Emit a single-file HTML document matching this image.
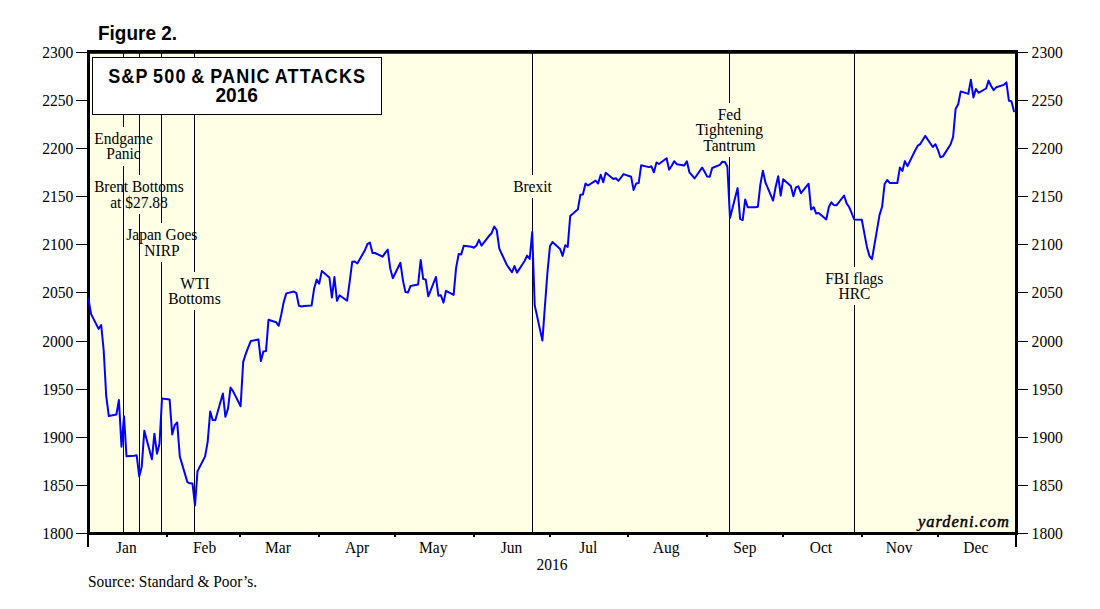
<!DOCTYPE html>
<html><head><meta charset="utf-8"><style>
html,body{margin:0;padding:0;background:#fff;width:1100px;height:609px;overflow:hidden}
svg{display:block}
.s{font-family:"Liberation Serif", serif;font-size:15.5px;fill:#000}
.t{font-family:"Liberation Sans", sans-serif;font-weight:bold;font-size:20px;fill:#000}
.y{font-family:"Liberation Serif", serif;font-style:italic;font-size:16.5px;fill:#000;stroke:#000;stroke-width:0.45}
</style></head><body>
<svg width="1100" height="609" viewBox="0 0 1100 609">
<rect x="87" y="50" width="931" height="485" fill="#FFFFE6"/>
<rect x="123" y="53" width="1" height="74" fill="#000"/>
<rect x="123" y="166" width="1" height="366" fill="#000"/>
<rect x="139" y="53" width="1" height="122" fill="#000"/>
<rect x="139" y="214" width="1" height="318" fill="#000"/>
<rect x="161" y="53" width="1" height="170" fill="#000"/>
<rect x="161" y="262" width="1" height="270" fill="#000"/>
<rect x="194" y="53" width="1" height="219" fill="#000"/>
<rect x="194" y="310" width="1" height="222" fill="#000"/>
<rect x="532" y="53" width="1" height="122" fill="#000"/>
<rect x="532" y="198" width="1" height="334" fill="#000"/>
<rect x="729" y="53" width="1" height="50" fill="#000"/>
<rect x="729" y="157" width="1" height="375" fill="#000"/>
<rect x="854" y="53" width="1" height="214" fill="#000"/>
<rect x="854" y="305" width="1" height="227" fill="#000"/>
<rect x="92.5" y="57.5" width="289" height="57" fill="#fff" stroke="#000" stroke-width="1"/>
<rect x="87" y="50" width="931" height="3.75" fill="#000"/>
<rect x="87" y="50" width="3" height="485" fill="#000"/>
<rect x="1015" y="50" width="3" height="485" fill="#000"/>
<rect x="87" y="532" width="931" height="3" fill="#000"/>
<rect x="87" y="535" width="2" height="12" fill="#000"/>
<rect x="1015" y="535" width="2" height="12" fill="#000"/>
<polyline points="88.5,298.8 91.0,313.9 98.6,328.9 101.2,325.0 103.7,350.5 106.2,395.8 108.8,416.1 116.4,414.5 118.9,400.1 121.5,446.7 124.0,416.3 126.5,456.2 134.1,455.7 136.7,455.3 139.2,476.4 141.7,467.1 144.3,430.7 151.9,459.3 154.4,433.8 157.0,453.7 159.5,443.7 162.0,398.6 169.6,399.4 172.2,434.4 174.7,425.2 177.2,422.4 179.8,456.5 187.4,482.1 189.9,483.3 192.5,483.6 195.0,505.5 197.5,471.2 205.1,456.4 207.7,441.6 210.2,411.5 212.7,420.1 215.3,420.2 222.9,393.5 225.4,416.8 228.0,408.6 230.5,387.6 233.0,391.1 240.6,406.3 243.2,361.9 245.7,354.1 248.2,347.4 250.8,341.1 258.4,339.4 260.9,361.1 263.4,351.4 266.0,351.1 268.5,319.8 276.1,322.2 278.7,325.8 281.2,314.9 283.7,302.1 286.3,293.4 293.9,291.5 296.4,293.2 298.9,305.8 301.5,306.5 304.0,306.0 311.6,305.5 314.2,288.2 316.7,279.6 319.2,283.6 321.8,271.1 329.4,277.5 331.9,297.6 334.4,277.0 337.0,300.8 339.5,295.3 347.1,300.7 349.7,281.7 352.2,261.8 354.7,261.5 357.3,263.4 364.9,250.3 367.4,244.1 369.9,242.6 372.5,253.1 375.0,253.0 382.6,256.6 385.2,252.9 387.7,249.6 390.2,268.2 392.8,278.3 400.4,262.8 402.9,280.1 405.4,291.9 408.0,292.4 410.5,286.1 418.1,284.6 420.7,259.9 423.2,279.1 425.7,279.4 428.3,296.3 435.9,277.0 438.4,295.7 440.9,295.3 443.5,302.6 446.0,290.8 453.6,294.9 456.1,267.9 458.7,254.0 461.2,254.4 463.8,245.8 471.4,246.8 473.9,247.8 476.4,245.5 479.0,239.8 481.5,245.7 489.1,235.8 491.6,233.2 494.2,226.5 496.7,230.0 499.3,248.7 506.9,265.0 509.4,268.6 511.9,272.3 514.5,266.1 517.0,272.6 524.6,261.0 527.1,255.6 529.7,258.9 532.2,232.1 534.7,305.1 542.4,340.6 544.9,306.4 547.4,273.0 550.0,246.0 552.5,242.1 560.1,249.0 562.6,255.9 565.2,245.2 567.7,246.9 570.2,216.1 577.9,209.2 580.4,194.7 582.9,194.5 585.5,183.6 588.0,185.5 595.6,180.6 598.1,183.5 600.7,174.7 603.2,182.2 605.7,172.7 613.3,179.0 615.9,178.3 618.4,180.9 621.0,177.5 623.5,174.1 631.1,176.8 633.6,190.0 636.2,183.5 638.7,183.1 641.2,165.2 648.8,167.1 651.4,166.3 653.9,172.3 656.5,162.4 659.0,164.0 666.6,158.2 669.1,169.7 671.7,165.8 674.2,161.2 676.7,164.2 684.3,165.4 686.9,161.3 689.4,172.3 691.9,175.2 694.5,178.5 702.1,167.6 704.6,171.7 707.2,176.6 709.7,176.7 712.2,168.0 719.8,164.8 722.4,161.7 724.9,162.0 727.4,166.7 730.0,218.1 737.6,188.1 740.1,218.9 742.7,220.1 745.2,199.4 747.7,207.2 755.3,207.3 757.9,206.7 760.4,184.2 762.9,170.7 765.5,182.7 773.1,200.6 775.6,187.2 778.2,176.2 780.7,195.7 783.2,179.2 790.8,186.0 793.4,196.3 795.9,187.4 798.4,186.4 801.0,193.2 808.6,183.7 811.1,209.6 813.7,207.2 816.2,213.6 818.7,213.1 826.3,219.4 828.9,206.8 831.4,202.3 833.9,205.1 836.5,205.3 844.1,195.5 846.6,203.4 849.1,207.0 851.7,213.1 854.2,219.5 861.8,219.7 864.4,233.6 866.9,246.9 869.4,255.8 872.0,259.2 879.6,214.6 882.1,206.8 884.6,184.0 887.2,180.0 889.7,182.9 897.3,183.1 899.9,167.6 902.4,170.9 904.9,161.1 907.5,166.1 915.1,150.5 917.6,145.9 920.1,144.2 922.7,140.0 925.2,135.9 932.8,147.0 935.4,144.2 937.9,149.8 940.4,157.3 943.0,156.4 950.6,144.2 953.1,136.9 955.6,108.9 958.2,104.3 960.7,91.4 968.3,93.9 970.9,79.7 973.4,97.4 975.9,89.0 978.5,92.8 986.1,88.5 988.6,80.6 991.1,86.0 993.7,90.1 996.2,87.3 1003.8,84.9 1006.4,82.4 1008.9,100.7 1011.4,101.3 1014.0,111.3" fill="none" stroke="#0000FF" stroke-width="2" stroke-linejoin="round" stroke-linecap="round"/>
<rect x="166" y="535" width="2" height="2" fill="#000"/>
<rect x="239" y="535" width="2" height="2" fill="#000"/>
<rect x="318" y="535" width="2" height="2" fill="#000"/>
<rect x="394" y="535" width="2" height="2" fill="#000"/>
<rect x="473" y="535" width="2" height="2" fill="#000"/>
<rect x="549" y="535" width="2" height="2" fill="#000"/>
<rect x="627" y="535" width="2" height="2" fill="#000"/>
<rect x="706" y="535" width="2" height="2" fill="#000"/>
<rect x="782" y="535" width="2" height="2" fill="#000"/>
<rect x="861" y="535" width="2" height="2" fill="#000"/>
<rect x="937" y="535" width="2" height="2" fill="#000"/>
<rect x="76" y="52" width="11" height="1" fill="#000"/>
<rect x="1018" y="52" width="10" height="1" fill="#000"/>
<text x="42.2" y="57.5" class="s" style="font-size:16.5px" textLength="31.2" lengthAdjust="spacingAndGlyphs">2300</text>
<text x="1031.6" y="57.5" class="s" style="font-size:16.5px" textLength="31.2" lengthAdjust="spacingAndGlyphs">2300</text>
<rect x="76" y="100" width="11" height="1" fill="#000"/>
<rect x="1018" y="100" width="10" height="1" fill="#000"/>
<text x="42.2" y="105.5" class="s" style="font-size:16.5px" textLength="31.2" lengthAdjust="spacingAndGlyphs">2250</text>
<text x="1031.6" y="105.5" class="s" style="font-size:16.5px" textLength="31.2" lengthAdjust="spacingAndGlyphs">2250</text>
<rect x="76" y="148" width="11" height="1" fill="#000"/>
<rect x="1018" y="148" width="10" height="1" fill="#000"/>
<text x="42.2" y="153.5" class="s" style="font-size:16.5px" textLength="31.2" lengthAdjust="spacingAndGlyphs">2200</text>
<text x="1031.6" y="153.5" class="s" style="font-size:16.5px" textLength="31.2" lengthAdjust="spacingAndGlyphs">2200</text>
<rect x="76" y="196" width="11" height="1" fill="#000"/>
<rect x="1018" y="196" width="10" height="1" fill="#000"/>
<text x="42.2" y="201.5" class="s" style="font-size:16.5px" textLength="31.2" lengthAdjust="spacingAndGlyphs">2150</text>
<text x="1031.6" y="201.5" class="s" style="font-size:16.5px" textLength="31.2" lengthAdjust="spacingAndGlyphs">2150</text>
<rect x="76" y="244" width="11" height="1" fill="#000"/>
<rect x="1018" y="244" width="10" height="1" fill="#000"/>
<text x="42.2" y="249.5" class="s" style="font-size:16.5px" textLength="31.2" lengthAdjust="spacingAndGlyphs">2100</text>
<text x="1031.6" y="249.5" class="s" style="font-size:16.5px" textLength="31.2" lengthAdjust="spacingAndGlyphs">2100</text>
<rect x="76" y="292" width="11" height="1" fill="#000"/>
<rect x="1018" y="292" width="10" height="1" fill="#000"/>
<text x="42.2" y="297.5" class="s" style="font-size:16.5px" textLength="31.2" lengthAdjust="spacingAndGlyphs">2050</text>
<text x="1031.6" y="297.5" class="s" style="font-size:16.5px" textLength="31.2" lengthAdjust="spacingAndGlyphs">2050</text>
<rect x="76" y="341" width="11" height="1" fill="#000"/>
<rect x="1018" y="341" width="10" height="1" fill="#000"/>
<text x="42.2" y="346.5" class="s" style="font-size:16.5px" textLength="31.2" lengthAdjust="spacingAndGlyphs">2000</text>
<text x="1031.6" y="346.5" class="s" style="font-size:16.5px" textLength="31.2" lengthAdjust="spacingAndGlyphs">2000</text>
<rect x="76" y="389" width="11" height="1" fill="#000"/>
<rect x="1018" y="389" width="10" height="1" fill="#000"/>
<text x="42.2" y="394.5" class="s" style="font-size:16.5px" textLength="31.2" lengthAdjust="spacingAndGlyphs">1950</text>
<text x="1031.6" y="394.5" class="s" style="font-size:16.5px" textLength="31.2" lengthAdjust="spacingAndGlyphs">1950</text>
<rect x="76" y="437" width="11" height="1" fill="#000"/>
<rect x="1018" y="437" width="10" height="1" fill="#000"/>
<text x="42.2" y="442.5" class="s" style="font-size:16.5px" textLength="31.2" lengthAdjust="spacingAndGlyphs">1900</text>
<text x="1031.6" y="442.5" class="s" style="font-size:16.5px" textLength="31.2" lengthAdjust="spacingAndGlyphs">1900</text>
<rect x="76" y="485" width="11" height="1" fill="#000"/>
<rect x="1018" y="485" width="10" height="1" fill="#000"/>
<text x="42.2" y="490.5" class="s" style="font-size:16.5px" textLength="31.2" lengthAdjust="spacingAndGlyphs">1850</text>
<text x="1031.6" y="490.5" class="s" style="font-size:16.5px" textLength="31.2" lengthAdjust="spacingAndGlyphs">1850</text>
<rect x="76" y="533" width="11" height="1" fill="#000"/>
<rect x="1018" y="533" width="10" height="1" fill="#000"/>
<text x="42.2" y="538.5" class="s" style="font-size:16.5px" textLength="31.2" lengthAdjust="spacingAndGlyphs">1800</text>
<text x="1031.6" y="538.5" class="s" style="font-size:16.5px" textLength="31.2" lengthAdjust="spacingAndGlyphs">1800</text>
<text x="126.4" y="553" text-anchor="middle" class="s" style="font-size:16px" textLength="20.66" lengthAdjust="spacingAndGlyphs">Jan</text>
<text x="204.5" y="553" text-anchor="middle" class="s" style="font-size:16px" textLength="23.25" lengthAdjust="spacingAndGlyphs">Feb</text>
<text x="278.0" y="553" text-anchor="middle" class="s" style="font-size:16px" textLength="25.82" lengthAdjust="spacingAndGlyphs">Mar</text>
<text x="357.0" y="553" text-anchor="middle" class="s" style="font-size:16px" textLength="24.11" lengthAdjust="spacingAndGlyphs">Apr</text>
<text x="433.3" y="553" text-anchor="middle" class="s" style="font-size:16px" textLength="28.41" lengthAdjust="spacingAndGlyphs">May</text>
<text x="511.5" y="553" text-anchor="middle" class="s" style="font-size:16px" textLength="21.53" lengthAdjust="spacingAndGlyphs">Jun</text>
<text x="588.3" y="553" text-anchor="middle" class="s" style="font-size:16px" textLength="18.09" lengthAdjust="spacingAndGlyphs">Jul</text>
<text x="666.2" y="553" text-anchor="middle" class="s" style="font-size:16px" textLength="26.69" lengthAdjust="spacingAndGlyphs">Aug</text>
<text x="744.8" y="553" text-anchor="middle" class="s" style="font-size:16px" textLength="23.25" lengthAdjust="spacingAndGlyphs">Sep</text>
<text x="821.0" y="553" text-anchor="middle" class="s" style="font-size:16px" textLength="22.38" lengthAdjust="spacingAndGlyphs">Oct</text>
<text x="899.2" y="553" text-anchor="middle" class="s" style="font-size:16px" textLength="26.69" lengthAdjust="spacingAndGlyphs">Nov</text>
<text x="975.8" y="553" text-anchor="middle" class="s" style="font-size:16px" textLength="24.95" lengthAdjust="spacingAndGlyphs">Dec</text>
<text x="552" y="570" text-anchor="middle" class="s" style="font-size:16px" textLength="31.00" lengthAdjust="spacingAndGlyphs">2016</text>
<text x="88" y="587" class="s" style="font-size:16px" textLength="169.00" lengthAdjust="spacingAndGlyphs">Source: Standard &amp; Poor’s.</text>
<text x="123.5" y="143.5" text-anchor="middle" class="s" style="font-size:16px" textLength="58.53" lengthAdjust="spacingAndGlyphs">Endgame</text>
<text x="123.5" y="159" text-anchor="middle" class="s" style="font-size:16px" textLength="34.44" lengthAdjust="spacingAndGlyphs">Panic</text>
<text x="138.9" y="192.1" text-anchor="middle" class="s" style="font-size:16px" textLength="89.55" lengthAdjust="spacingAndGlyphs">Brent Bottoms</text>
<text x="139" y="208.1" text-anchor="middle" class="s" style="font-size:16px" textLength="57.69" lengthAdjust="spacingAndGlyphs">at $27.88</text>
<text x="161.8" y="239.9" text-anchor="middle" class="s" style="font-size:16px" textLength="71.02" lengthAdjust="spacingAndGlyphs">Japan Goes</text>
<text x="162" y="256.4" text-anchor="middle" class="s" style="font-size:16px" textLength="35.31" lengthAdjust="spacingAndGlyphs">NIRP</text>
<text x="195" y="288.6" text-anchor="middle" class="s" style="font-size:16px" textLength="29.26" lengthAdjust="spacingAndGlyphs">WTI</text>
<text x="194.4" y="304.3" text-anchor="middle" class="s" style="font-size:16px" textLength="52.54" lengthAdjust="spacingAndGlyphs">Bottoms</text>
<text x="532.5" y="192.1" text-anchor="middle" class="s" style="font-size:16px" textLength="38.74" lengthAdjust="spacingAndGlyphs">Brexit</text>
<text x="729.3" y="119.5" text-anchor="middle" class="s" style="font-size:16px" textLength="23.25" lengthAdjust="spacingAndGlyphs">Fed</text>
<text x="729.4" y="134.5" text-anchor="middle" class="s" style="font-size:16px" textLength="67.47" lengthAdjust="spacingAndGlyphs">Tightening</text>
<text x="729.5" y="150.5" text-anchor="middle" class="s" style="font-size:16px" textLength="52.29" lengthAdjust="spacingAndGlyphs">Tantrum</text>
<text x="854.3" y="283.5" text-anchor="middle" class="s" style="font-size:16px" textLength="58.13" lengthAdjust="spacingAndGlyphs">FBI flags</text>
<text x="854.5" y="298.9" text-anchor="middle" class="s" style="font-size:16px" textLength="31.87" lengthAdjust="spacingAndGlyphs">HRC</text>
<text x="918" y="527" class="y" textLength="91" lengthAdjust="spacing">yardeni.com</text>
<text transform="translate(108.2,83) scale(0.9,1)" class="t" style="letter-spacing:1.3px;word-spacing:-1.6px">S&amp;P 500 &amp; PANIC ATTACKS</text>
<text x="236.65" y="101.8" text-anchor="middle" class="t" textLength="42.5" lengthAdjust="spacingAndGlyphs">2016</text>
<text x="98" y="39.8" class="t" textLength="79" lengthAdjust="spacingAndGlyphs">Figure 2.</text>
</svg>
</body></html>
